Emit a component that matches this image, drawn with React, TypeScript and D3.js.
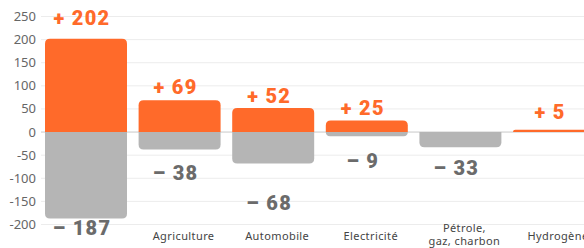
import React from "react";
import { scaleBand, scaleLinear } from "d3";

// categories and values
const categories = ["", "Agriculture", "Automobile", "Electricité", "Pétrole,\ngaz, charbon", "Hydrogène"];
const gains = [202, 69, 52, 25, 0, 5];
const losses = [-187, -38, -68, -9, -33, 0];
// where the annotation labels sit, in chart units
const gainLabelAt = [247, 98, 78, 52, 0, 44];
const lossLabelAt = [-208, -89, -154, -63, -78, 0];
const yTicks = [250, 200, 150, 100, 50, 0, -50, -100, -150, -200];

const W = 584;
const H = 248;
const ORANGE = "#FF6A2A";
const GREY = "#B5B5B5";

const topRounded = (x: number, y: number, w: number, h: number, r: number) => {
    const rr = Math.min(r, h, w / 2);
    return `M${x},${y + h}V${y + rr}Q${x},${y} ${x + rr},${y}H${x + w - rr}Q${x + w},${y} ${x + w},${y + rr}V${y + h}Z`;
};

const bottomRounded = (x: number, y: number, w: number, h: number, r: number) => {
    const rr = Math.min(r, h, w / 2);
    return `M${x},${y}V${y + h - rr}Q${x},${y + h} ${x + rr},${y + h}H${x + w - rr}Q${x + w},${y + h} ${x + w},${y + h - rr}V${y}Z`;
};

const App = () => {
    const y = scaleLinear().domain([-200, 250]).range([224.5, 16.5]);
    const x = scaleBand<number>()
        .domain(categories.map((_, i) => i))
        .range([39.2, 600.8])
        .paddingInner(0.124)
        .paddingOuter(0.062);
    const bw = x.bandwidth();
    const y0 = y(0);

    return (
        <svg
            width={W}
            height={H}
            style={{ position: "absolute", left: 0, top: 0, background: "#fff" }}
            fontFamily="Roboto, sans-serif"
        >
            {/* grid */}
            {yTicks.map((t) => (
                <g key={t}>
                    <line
                        x1={41}
                        x2={W}
                        y1={y(t)}
                        y2={y(t)}
                        stroke={t === 0 ? "#c8c8c8" : "#ececec"}
                        strokeWidth={1}
                    />
                    <text
                        x={36}
                        y={y(t)}
                        dy="0.35em"
                        textAnchor="end"
                        fontSize={13}
                        fill="#666"
                        fontFamily="'Noto Sans', sans-serif"
                    >
                        {t}
                    </text>
                </g>
            ))}

            {/* bars */}
            {categories.map((_, i) => {
                const bx = x(i) as number;
                return (
                    <g key={i}>
                        {gains[i] > 0 && (
                            <path d={topRounded(bx, y(gains[i]), bw, y0 - y(gains[i]), 5)} fill={ORANGE} />
                        )}
                        {losses[i] < 0 && (
                            <path d={bottomRounded(bx, y0, bw, y(losses[i]) - y0, 5)} fill={GREY} />
                        )}
                    </g>
                );
            })}

            {/* value labels */}
            {categories.map((_, i) => {
                const cx = (x(i) as number) + bw / 2 - 4;
                return (
                    <g key={"l" + i} fontWeight={900} fontSize={20} letterSpacing={1.3}>
                        {gains[i] > 0 && (
                            <text x={cx} y={y(gainLabelAt[i])} dy="0.36em" textAnchor="middle" fill={ORANGE}>
                                {`+ ${gains[i]}`}
                            </text>
                        )}
                        {losses[i] < 0 && (
                            <text x={cx} y={y(lossLabelAt[i])} dy="0.36em" textAnchor="middle" fill="#6b6b6b">
                                {`– ${Math.abs(losses[i])}`}
                            </text>
                        )}
                    </g>
                );
            })}

            {/* category labels */}
            {categories.map((c, i) => {
                const lines = c.split("\n");
                const cx = (x(i) as number) + bw / 2 + 4;
                const startY = lines.length > 1 ? 228 : 236;
                return (
                    <text
                        key={"c" + i}
                        x={cx}
                        textAnchor="middle"
                        fontSize={11}
                        fill="#444"
                        letterSpacing={0.4}
                        fontFamily="'Noto Sans', sans-serif"
                    >
                        {lines.map((l, k) => (
                            <tspan key={k} x={cx} y={startY + k * 13} dy="0.35em">
                                {l}
                            </tspan>
                        ))}
                    </text>
                );
            })}
        </svg>
    );
};

export default App;
